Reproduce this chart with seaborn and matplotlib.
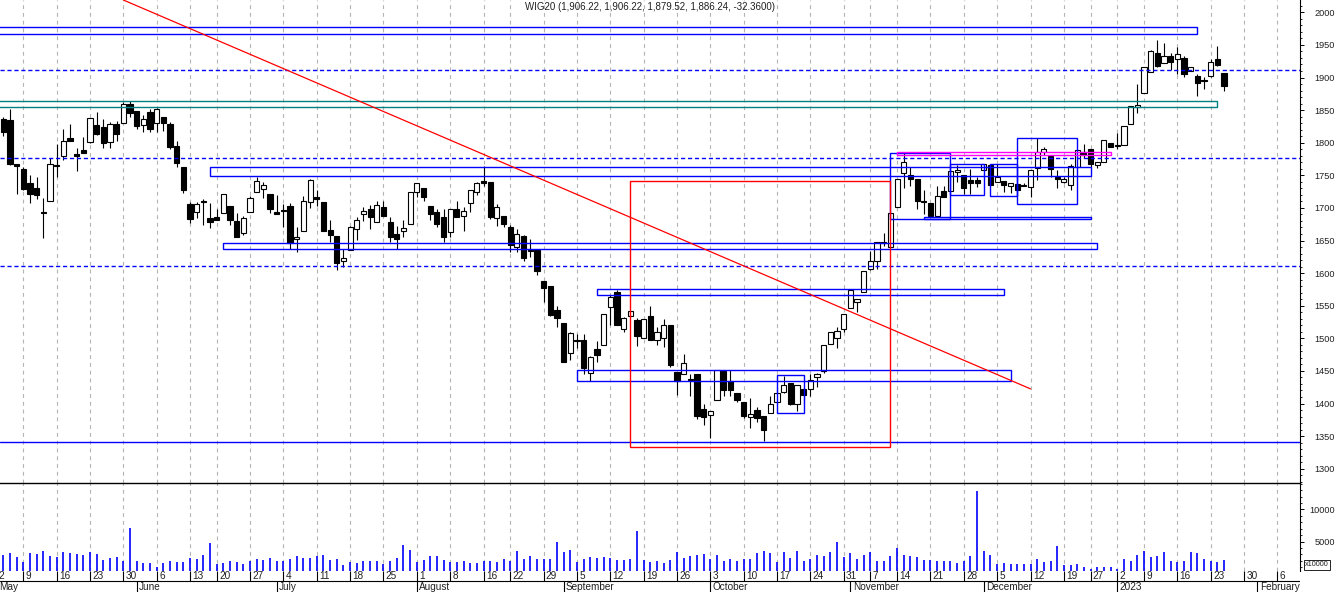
import matplotlib
matplotlib.use('Agg')
import matplotlib.pyplot as plt
from matplotlib.patches import Rectangle
from matplotlib.ticker import MultipleLocator
import numpy as np
import pandas as pd
import seaborn as sns

sns.set_theme(style='white')
plt.rcParams['font.family'] = ['Liberation Sans', 'DejaVu Sans']

# GPW session calendar (plus a few future days so the axis runs into February)
holidays = ['2022-05-03', '2022-06-16', '2022-08-15', '2022-11-01', '2022-11-11',
            '2022-12-23', '2022-12-26', '2023-01-06']
days = pd.bdate_range('2022-05-02', '2023-02-10')
days = days[~days.isin(pd.to_datetime(holidays))]
pos = pd.Series(np.arange(len(days), dtype=float), index=days)

first_candle = '2022-05-04'

opens = [1836, 1835, 1768, 1760, 1738, 1730, 1694, 1711, 1766, 1779,
         1808, 1782, 1789, 1801, 1827, 1824, 1801, 1828, 1831, 1860,
         1849, 1827, 1847, 1830, 1840, 1829, 1795, 1763, 1706, 1694,
         1711, 1684, 1686, 1692, 1703, 1680, 1661, 1693, 1725, 1729,
         1722, 1693, 1697, 1703, 1652, 1665, 1709, 1716, 1709, 1666,
         1657, 1619, 1636, 1667, 1690, 1698, 1679, 1701, 1678, 1660,
         1664, 1676, 1725, 1731, 1703, 1693, 1686, 1663, 1698, 1687,
         1707, 1724, 1741, 1739, 1684, 1687, 1671, 1640, 1657, 1635,
         1635, 1588, 1580, 1543, 1523, 1478, 1498, 1497, 1447, 1484,
         1489, 1548, 1571, 1514, 1535, 1528, 1500, 1534, 1498, 1500,
         1520, 1448, 1445, 1438, 1446, 1391, 1382, 1406, 1450, 1434,
         1416, 1402, 1380, 1390, 1381, 1385, 1402, 1418, 1431, 1400,
         1423, 1423, 1441, 1450, 1491, 1500, 1514, 1546, 1555, 1571,
         1607, 1619, 1648, 1640, 1701, 1753, 1750, 1745, 1711, 1707,
         1688, 1726, 1726, 1755, 1750, 1743, 1743, 1758, 1766, 1740,
         1742, 1733, 1737, 1735, 1732, 1761, 1786, 1780, 1748, 1740,
         1735, 1763, 1786, 1790, 1766, 1771, 1799, 1797, 1796, 1828,
         1855, 1876, 1908, 1937, 1922, 1933, 1928, 1930, 1910, 1902,
         1896, 1902, 1929, 1906.22]

highs = [1839, 1852, 1768, 1762, 1750, 1747, 1715, 1776, 1798, 1821,
         1829, 1792, 1809, 1838, 1847, 1836, 1832, 1833, 1863, 1864,
         1849, 1842, 1852, 1854, 1840, 1832, 1803, 1763, 1709, 1709,
         1714, 1707, 1698, 1721, 1703, 1692, 1688, 1718, 1748, 1740,
         1722, 1720, 1706, 1707, 1671, 1718, 1744, 1728, 1709, 1682,
         1657, 1637, 1672, 1686, 1702, 1705, 1711, 1711, 1686, 1672,
         1682, 1724, 1738, 1731, 1703, 1698, 1698, 1698, 1710, 1702,
         1727, 1740, 1764, 1739, 1706, 1687, 1674, 1668, 1658, 1652,
         1636, 1588, 1580, 1550, 1523, 1510, 1507, 1507, 1473, 1496,
         1537, 1566, 1574, 1532, 1542, 1531, 1529, 1550, 1517, 1529,
         1520, 1448, 1476, 1445, 1446, 1400, 1389, 1452, 1450, 1451,
         1416, 1402, 1408, 1394, 1381, 1412, 1423, 1442, 1431, 1429,
         1426, 1446, 1447, 1490, 1509, 1518, 1538, 1574, 1561, 1603,
         1634, 1647, 1661, 1692, 1745, 1786, 1763, 1745, 1727, 1707,
         1733, 1733, 1756, 1766, 1750, 1759, 1748, 1768, 1768, 1768,
         1742, 1738, 1737, 1738, 1758, 1807, 1794, 1780, 1758, 1748,
         1768, 1789, 1798, 1790, 1770, 1804, 1799, 1815, 1826, 1857,
         1890, 1916, 1942, 1958, 1953, 1937, 1947, 1933, 1916, 1906,
         1901, 1928, 1948, 1906.22]

lows = [1811, 1766, 1721, 1727, 1707, 1713, 1654, 1711, 1748, 1773,
        1803, 1757, 1784, 1800, 1812, 1792, 1792, 1803, 1831, 1840,
        1821, 1817, 1816, 1816, 1818, 1791, 1763, 1723, 1677, 1684,
        1674, 1669, 1681, 1692, 1674, 1656, 1659, 1693, 1725, 1715,
        1692, 1691, 1670, 1637, 1633, 1665, 1700, 1703, 1665, 1648,
        1605, 1610, 1636, 1651, 1680, 1668, 1679, 1688, 1648, 1637,
        1656, 1676, 1717, 1711, 1682, 1670, 1647, 1655, 1686, 1664,
        1693, 1720, 1733, 1683, 1673, 1671, 1633, 1633, 1618, 1625,
        1597, 1555, 1534, 1517, 1464, 1467, 1485, 1446, 1434, 1463,
        1489, 1520, 1520, 1509, 1535, 1488, 1500, 1498, 1490, 1486,
        1456, 1413, 1445, 1411, 1377, 1367, 1347, 1406, 1412, 1411,
        1403, 1378, 1363, 1372, 1342, 1385, 1402, 1416, 1398, 1388,
        1400, 1411, 1426, 1447, 1491, 1485, 1509, 1546, 1541, 1571,
        1605, 1607, 1641, 1640, 1701, 1730, 1733, 1699, 1691, 1687,
        1688, 1716, 1726, 1740, 1722, 1722, 1732, 1758, 1733, 1740,
        1725, 1723, 1719, 1733, 1717, 1743, 1781, 1748, 1730, 1738,
        1727, 1763, 1776, 1763, 1761, 1771, 1794, 1791, 1796, 1828,
        1846, 1876, 1908, 1916, 1922, 1912, 1905, 1901, 1910, 1872,
        1883, 1901, 1917, 1879.52]

closes = [1816, 1767, 1765, 1729, 1722, 1720, 1692, 1768, 1764, 1802,
          1803, 1779, 1785, 1838, 1813, 1799, 1829, 1813, 1860, 1845,
          1825, 1836, 1821, 1851, 1831, 1794, 1769, 1727, 1683, 1706,
          1709, 1679, 1681, 1721, 1682, 1656, 1684, 1715, 1741, 1735,
          1698, 1691, 1695, 1646, 1656, 1710, 1743, 1714, 1665, 1658,
          1616, 1623, 1671, 1681, 1696, 1686, 1704, 1688, 1656, 1652,
          1669, 1724, 1738, 1716, 1690, 1676, 1655, 1698, 1686, 1696,
          1727, 1738, 1738, 1686, 1701, 1675, 1643, 1660, 1623, 1634,
          1604, 1577, 1536, 1531, 1464, 1508, 1496, 1454, 1472, 1474,
          1537, 1563, 1520, 1531, 1542, 1503, 1529, 1498, 1510, 1520,
          1459, 1435, 1462, 1436, 1381, 1380, 1389, 1452, 1421, 1420,
          1405, 1381, 1384, 1378, 1360, 1399, 1416, 1429, 1399, 1429,
          1413, 1436, 1445, 1490, 1509, 1511, 1538, 1574, 1561, 1603,
          1619, 1647, 1646, 1692, 1745, 1771, 1744, 1710, 1709, 1688,
          1719, 1716, 1756, 1758, 1730, 1738, 1738, 1768, 1735, 1748,
          1735, 1738, 1728, 1733, 1758, 1786, 1790, 1759, 1744, 1745,
          1765, 1789, 1781, 1768, 1770, 1804, 1794, 1795, 1826, 1857,
          1858, 1916, 1941, 1917, 1933, 1924, 1936, 1906, 1916, 1892,
          1894, 1924, 1918.6, 1886.24]

# volume in units of 10000
volumes = [2890, 3255, 2630, 1850, 3255, 3050, 3570, 2790, 2630, 3410,
           3255, 3050, 2890, 3410, 3050, 2110, 2370, 2530, 2000, 7110,
           2000, 1590, 1590, 1070, 1690, 2000, 1850, 1850, 2370, 2210,
           2890, 4820, 1480, 1590, 1950, 1850, 1480, 2000, 2270, 2110,
           2420, 2000, 2000, 2270, 2730, 2370, 2370, 2730, 2890, 2110,
           2270, 1330, 1745, 1640, 1950, 1950, 1950, 1430, 1900, 2420,
           4450, 3670, 1800, 2110, 2730, 2730, 2110, 1800, 1850, 2000,
           1640, 1640, 1950, 1950, 1800, 2210, 2000, 3520, 2320, 2730,
           2320, 2270, 2320, 4970, 3360, 3670, 1850, 2320, 2530, 2420,
           2530, 2470, 2110, 2110, 2210, 6640, 2110, 1800, 1900, 1590,
           2110, 3410, 2470, 2730, 2890, 3050, 2210, 2890, 1950, 2270,
           1950, 2270, 2270, 3150, 3520, 3200, 1850, 3360, 2470, 3520,
           2000, 2210, 2890, 2730, 3360, 4920, 2630, 3200, 2270, 2890,
           3410, 1950, 1950, 2730, 3980, 2890, 2680, 2530, 2110, 2110,
           1950, 1950, 1950, 1640, 1950, 2730, 12940, 3570, 2890, 1480,
           1640, 1480, 1480, 1480, 1480, 2270, 1800, 1950, 4300, 1330,
           1330, 1480, 1010, 700, 1010, 1010, 1010, 700, 2270, 1950,
           2890, 3520, 2580, 2730, 3360, 1950, 1800, 1950, 3360, 3200,
           2270, 1950, 1800, 2110]

title = 'WIG20 (1,906.22, 1,906.22, 1,879.52, 1,886.24, -32.3600)'
month_names = ['May', 'June', 'July', 'August', 'September', 'October',
               'November', 'December', '2023', 'February']

# hand drawn studies on the chart
dashed_levels = [1911.0, 1776.1, 1610.4]
support_level = 1340.5
trend_dates = ['2022-05-30', '2022-12-12']
trend_prices = [2018.9, 1422.5]

blue_start = ['2022-05-02', '2022-06-17', '2022-06-21', '2022-09-08', '2022-09-05',
              '2022-10-17', '2022-11-10', '2022-11-18', '2022-11-24', '2022-12-02',
              '2022-12-08']
blue_end = ['2023-01-19', '2022-12-27', '2022-12-28', '2022-12-06', '2022-12-07',
            '2022-10-21', '2022-11-24', '2022-12-27', '2022-12-01', '2022-12-08',
            '2022-12-21']
blue_low = [1966.3, 1748.5, 1636.5, 1566.0, 1434.5, 1385.0, 1683.0, 1682.5, 1719.3,
            1719.0, 1705.5]
blue_high = [1977.0, 1762.7, 1645.7, 1575.2, 1450.9, 1443.3, 1783.7, 1686.5, 1767.3,
             1767.0, 1806.8]

teal_start, teal_end, teal_low, teal_high = '2022-05-02', '2023-01-24', 1854.3, 1864.0
pink_start, pink_end, pink_low, pink_high = '2022-11-14', '2022-12-30', 1780.7, 1785.3
red_start, red_end, red_low, red_high = '2022-09-15', '2022-11-10', 1333.8, 1740.8

candle_days = days[days >= first_candle][:len(opens)]
df = pd.DataFrame({'x': pos[candle_days].values, 'open': opens, 'high': highs,
                   'low': lows, 'close': closes, 'volume': volumes})
df['up'] = df['close'] >= df['open']

week_pos = pos.groupby(pos.index.to_period('W')).min()
week_day = days.to_series().groupby(days.to_period('W')).min().dt.day
month_pos = pos.groupby(pos.index.to_period('M')).min()

W, H = 1336, 592
fig = plt.figure(figsize=(W / 100, H / 100), dpi=100)
ax = fig.add_axes([0, 1 - 483 / H, 1300 / W, 483 / H])
axv = fig.add_axes([0, 21 / H, 1300 / W, 88 / H])
axb = fig.add_axes([0, 0, 1300 / W, 21 / H])

xlo, xhi = 0.51, 195.4
grid_kw = dict(color='#b4b4b4', lw=0.8, ls=(0, (3.5, 3.5)), zorder=0)
for p in week_pos.values:
    ax.axvline(p, **grid_kw)
    axv.axvline(p, **grid_kw)

# candles
ax.vlines(df['x'], df['low'], df['high'], color='black', lw=0.8, zorder=2)
body_lo = df[['open', 'close']].min(axis=1)
body_h = (df['close'] - df['open']).abs()
ax.bar(df['x'], body_h, bottom=body_lo, width=0.78,
       color=np.where(df['up'], 'white', 'black'), edgecolor='black',
       linewidth=0.8, zorder=3)

# studies
for lvl in dashed_levels:
    ax.axhline(lvl, color='#0000ff', lw=1.0, ls=(0, (3, 2)), zorder=4)
ax.axhline(support_level, color='#0000ff', lw=1.0, zorder=4)


def box(a, b, lo, hi, color):
    ax.add_patch(Rectangle((pos[a], lo), pos[b] - pos[a], hi - lo, fill=False,
                           edgecolor=color, lw=1.0, zorder=4))


for a, b, lo, hi in zip(blue_start, blue_end, blue_low, blue_high):
    box(a, b, lo, hi, '#0000ff')
box(teal_start, teal_end, teal_low, teal_high, '#008080')
box(pink_start, pink_end, pink_low, pink_high, '#ff00ff')
box(red_start, red_end, red_low, red_high, '#ff0000')

sns.lineplot(x=pos[trend_dates].values, y=trend_prices, ax=ax, color='#ff0000',
             linewidth=0.9, zorder=4)

# volume
axv.vlines(df['x'], 0, df['volume'], color='#0000ff', lw=1.2, zorder=2)

# axes styling
for a in (ax, axv, axb):
    a.set_xlim(xlo, xhi)
    a.set_xticks([])
    a.set_xlabel('')
    a.set_ylabel('')
    a.set_facecolor('white')
    for s in a.spines.values():
        s.set_visible(False)

ax.set_ylim(1278.1, 2018.9)
axv.set_ylim(391, 14140)
for a, major, minor in ((ax, 50, 10), (axv, 5000, 1000)):
    a.spines['right'].set_visible(True)
    a.spines['right'].set_color('black')
    a.spines['right'].set_linewidth(0.8)
    a.yaxis.tick_right()
    a.yaxis.set_major_locator(MultipleLocator(major))
    a.yaxis.set_minor_locator(MultipleLocator(minor))
    a.tick_params(axis='y', which='major', direction='out', length=3, width=0.7,
                  colors='black', labelcolor='#202020', labelsize=6.6, pad=22)
    a.tick_params(axis='y', which='minor', direction='out', length=1.6, width=0.6,
                  colors='black')
    for lab in a.get_yticklabels():
        lab.set_horizontalalignment('right')
# separator between price and volume panels
axv.spines['top'].set_visible(True)
axv.spines['top'].set_color('black')
axv.spines['top'].set_linewidth(1.0)

# date band
axb.set_ylim(0, 1)
axb.set_yticks([])
split = 11 / 21
axb.axhline(split, color='black', lw=0.8)
axb.vlines(week_pos.values, split, 1, color='black', lw=0.8)
axb.vlines(month_pos.values, 0, split, color='black', lw=0.8)
for p, d in zip(week_pos.values, week_day.values):
    axb.text(p + 0.35, (split + 1) / 2, str(d), fontsize=7.2, va='center', ha='left',
             color='#202020', clip_on=True)
for p, name in zip(month_pos.values, month_names):
    axb.text(p + 0.35, split / 2, name, fontsize=7.2, va='center', ha='left',
             color='#202020', clip_on=True)

fig.text(1305 / W, 1 - 565 / H, 'x10000', fontsize=5.2, va='center', ha='left',
         color='#202020',
         bbox=dict(boxstyle='square,pad=0.15', fc='white', ec='black', lw=0.6))
fig.text(650 / W, 1 - 7 / H, title, fontsize=7, ha='center', va='center',
         color='#202020')

fig.savefig('out.png', dpi=100)
